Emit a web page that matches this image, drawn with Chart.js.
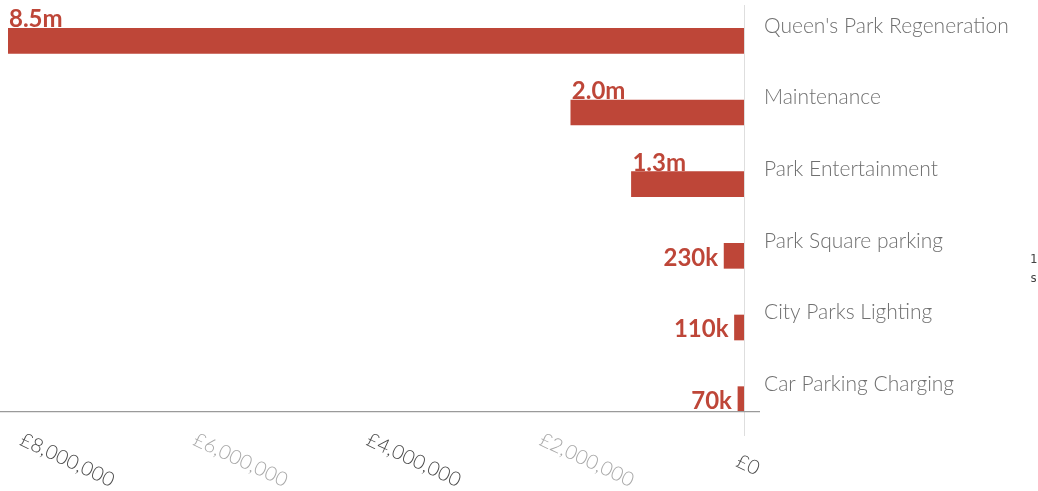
<!DOCTYPE html>
<html>
<head>
<meta charset="utf-8">
<script src="https://cdn.jsdelivr.net/npm/chart.js@4"></script>
<style>
  html, body { margin: 0; padding: 0; background: #fff; }
  #wrap { width: 1038px; height: 491px; position: relative; }
  .stray { position: absolute; left: 1030px; font: 12px "DejaVu Sans Mono", monospace; color: #444; }
</style>
</head>
<body>
<div id="wrap">
  <canvas id="myChart" width="1038" height="491"></canvas>
  <div class="stray" style="top:252px">1</div>
  <div class="stray" style="top:271px">s</div>
</div>
<script>
const categories = [
    "Queen's Park Regeneration",
    'Maintenance',
    'Park Entertainment',
    'Park Square parking',
    'City Parks Lighting',
    'Car Parking Charging'
];
const amounts = [8500000, 2000000, 1300000, 230000, 110000, 70000];
const valueLabels = ['8.5m', '2.0m', '1.3m', '230k', '110k', '70k'];
const tickValues = [8000000, 6000000, 4000000, 2000000, 0];
const tickLabels = ['£8,000,000', '£6,000,000', '£4,000,000', '£2,000,000', '£0'];
const tickColors = ['#4a4a4a', '#a8a8a8', '#4a4a4a', '#a8a8a8', '#4a4a4a'];

const BAR_RED = '#be4638';

// draws axis line, rotated x tick labels and the value labels
const extras = {
    id: 'extras',
    afterDatasetsDraw(chart) {
        const ctx = chart.ctx;
        const x = chart.scales.x;
        const meta = chart.getDatasetMeta(0);
        const area = chart.chartArea;

        // horizontal axis line under the last bar
        const last = meta.data[meta.data.length - 1];
        const axisY = last.y + last.height / 2;
        ctx.save();
        ctx.strokeStyle = '#9a9a9a';
        ctx.lineWidth = 1.3;
        ctx.beginPath();
        ctx.moveTo(0, axisY);
        ctx.lineTo(area.right + 16, axisY);
        ctx.stroke();

        // rotated tick labels
        ctx.font = '300 20px Lato, "Open Sans", sans-serif';
        ctx.textAlign = 'center';
        ctx.textBaseline = 'middle';
        tickValues.forEach((v, i) => {
            const px = x.getPixelForValue(v);
            ctx.save();
            ctx.translate(px + (v === 0 ? 4 : 16), v === 0 ? 465 : 460);
            ctx.rotate(25 * Math.PI / 180);
            ctx.fillStyle = tickColors[i];
            ctx.fillText(tickLabels[i], 0, 0);
            ctx.restore();
        });

        // value labels
        ctx.fillStyle = BAR_RED;
        ctx.font = 'bold 24px Lato, "Open Sans", sans-serif';
        meta.data.forEach((bar, i) => {
            const left = x.getPixelForValue(amounts[i]);
            if (amounts[i] >= 1000000) {
                ctx.textAlign = 'left';
                ctx.textBaseline = 'alphabetic';
                ctx.fillText(valueLabels[i], left + 1, bar.y - bar.height / 2 - 1);
            } else {
                ctx.textAlign = 'right';
                ctx.textBaseline = 'middle';
                ctx.fillText(valueLabels[i], left - 6, bar.y + 2);
            }
        });
        ctx.restore();
    }
};

const config = {
    type: 'bar',
    data: {
        labels: categories,
        datasets: [{
            data: amounts,
            backgroundColor: BAR_RED,
            barThickness: 25,
            borderWidth: 0
        }]
    },
    options: {
        indexAxis: 'y',
        responsive: false,
        animation: false,
        layout: { padding: { left: 8, top: 5, bottom: 56, right: 0 } },
        plugins: {
            legend: { display: false },
            tooltip: { enabled: false }
        },
        scales: {
            x: {
                display: false,
                reverse: true,
                min: 0,
                max: 8500000
            },
            y: {
                position: 'right',
                grid: { display: false },
                border: { display: true, color: '#dedede', width: 1 },
                afterFit: (s) => {
                    s.width = 294;
                    s.paddingTop = 0;
                    s.paddingBottom = 0;
                },
                ticks: {
                    color: '#707070',
                    padding: 12,
                    labelOffset: -15,
                    font: { family: 'Lato, "Open Sans", sans-serif', size: 21, weight: '300' }
                }
            }
        }
    },
    plugins: [extras]
};

new Chart(document.getElementById('myChart'), config);
</script>
</body>
</html>
